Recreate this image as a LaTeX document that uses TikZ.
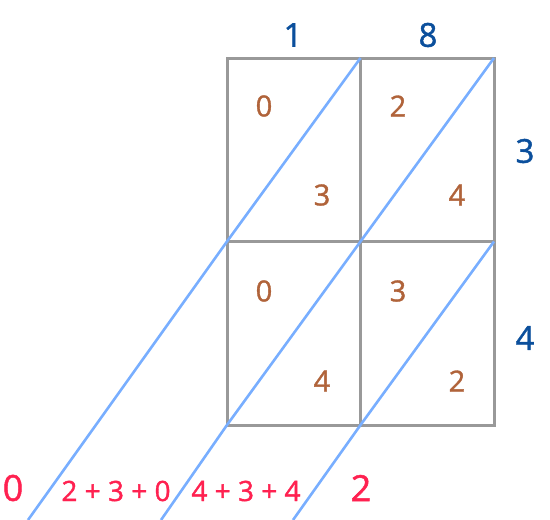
\documentclass[tikz,border=0pt]{standalone}
\usepackage{fontspec}
\setmainfont{Open Sans}
\newfontfamily\digitfont[FakeBold=1.3]{Open Sans}
\usetikzlibrary{positioning}
\definecolor{gridgray}{HTML}{999999}
\definecolor{diagblue}{HTML}{78AEFF}
\definecolor{digitbrown}{HTML}{B0633A}
\definecolor{factorblue}{HTML}{0B4F9C}
\definecolor{sumred}{HTML}{FF2150}

\begin{document}
\begin{tikzpicture}[
          x=1pt, y=-1pt,
          cell/.style={draw=gridgray, line width=3pt},
          diag/.style={draw=diagblue, line width=2.6pt},
          digit/.style={text=digitbrown, inner sep=0pt, font=\digitfont\fontsize{29}{29}\selectfont},
          factor/.style={text=factorblue, inner sep=0pt, font=\digitfont\fontsize{33}{33}\selectfont},
          total/.style={text=sumred, inner sep=0pt, font=\digitfont\fontsize{36}{36}\selectfont},
          partial/.style={text=sumred, inner sep=0pt, font=\digitfont\fontsize{28}{28}\selectfont}
        ]
        \useasboundingbox (0,0) rectangle (550,520);

        % grid corners
        \coordinate (g00) at (227,58);
        \coordinate (g10) at (360.5,58);
        \coordinate (g20) at (494,58);
        \coordinate (g01) at (227,241.5);
        \coordinate (g11) at (360.5,241.5);
        \coordinate (g21) at (494,241.5);
        \coordinate (g02) at (227,425);
        \coordinate (g12) at (360.5,425);
        \coordinate (g22) at (494,425);
        \coordinate (e0) at (28,520);
        \coordinate (e1) at (161,520);
        \coordinate (e2) at (293,520);

        \draw[cell] (g00) rectangle (g22);
        \draw[cell] (g10) -- (g12);
        \draw[cell] (g01) -- (g21);

        \draw[diag] (g10) -- (g01) -- (e0);
        \draw[diag] (g20) -- (g11) -- (g02) -- (e1);
        \draw[diag] (g21) -- (g12) -- (e2);

        \node[factor] (f1) at (293,35) {1};
        \node[factor] (f8) at (428,35) {8};
        \node[factor] (f3) at (525,151) {3};
        \node[factor] (f4) at (525,338) {4};

        \node[digit] (a1) at (264,106) {0};
        \node[digit] (a2) at (322,195) {3};
        \node[digit] (b1) at (398,106) {2};
        \node[digit] (b2) at (457,195) {4};
        \node[digit] (c1) at (264,291) {0};
        \node[digit] (c2) at (322,381) {4};
        \node[digit] (d1) at (398,291) {3};
        \node[digit] (d2) at (457,381) {2};

        \node[total] (s0) at (13,488) {0};
        \node[partial] (s1) at (116,491) {2 + 3 + 0};
        \node[partial] (s2) at (246,491) {4 + 3 + 4};
        \node[total] (s3) at (361,488) {2};
        \end{tikzpicture}
\end{document}
